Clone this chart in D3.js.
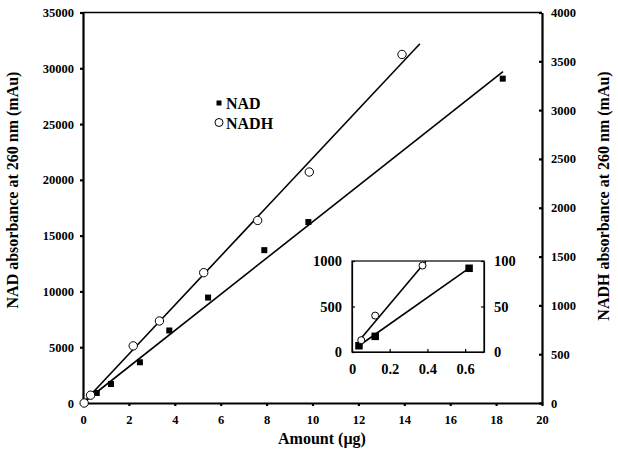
<!DOCTYPE html>
<html>
<head>
<meta charset="utf-8">
<script src="https://cdn.jsdelivr.net/npm/d3@7"></script>
<style>
  body { margin: 0; background: #fff; }
  text { font-family: "Liberation Serif", "Times New Roman", serif; font-weight: bold; }
</style>
</head>
<body>
<script>
// values

// main plot: amount (µg) vs absorbance
var nadAmount = [0.6, 1.22, 2.48, 3.76, 5.45, 7.9, 9.82, 18.29],
    nadAbs    = [900, 1700, 3650, 6500, 9450, 13700, 16220, 29070];   // left axis, mAu

var nadhAmount = [0.05, 0.33, 2.19, 3.33, 5.26, 7.61, 9.86, 13.9],
    nadhAbs    = [0, 80, 585, 840, 1335, 1870, 2366, 3570];            // right axis, mAu

// fitted lines: slope, intercept, x start, x end
var nadFit  = [1623, 0, 0, 18.3],
    nadhFit = [250.7, 0, 0, 14.68];

// inset: low amounts
var insetNadAmount  = [0.037, 0.123, 0.621],
    insetNadAbs     = [69, 172, 920],
    insetNadhAmount = [0.049, 0.123, 0.374],
    insetNadhAbs    = [13, 40, 95];

var insetNadFit  = [1460, 15, 0.035, 0.625],
    insetNadhFit = [247, 3, 0.033, 0.392];

// ticks
var xTicks = d3.range(0, 21, 2),
    yLeftTicks = d3.range(0, 35001, 5000),
    yRightTicks = d3.range(0, 4001, 500),
    insetXTicks = [0, 0.2, 0.4, 0.6],
    insetLeftTicks = [0, 500, 1000],
    insetRightTicks = [0, 50, 100];

var width = 618, height = 454;

var svg = d3.select('body').append('svg')
  .attr('width', width)
  .attr('height', height);

// main scales
var x = d3.scaleLinear().domain([0, 20]).range([83, 542]);
var yL = d3.scaleLinear().domain([0, 35000]).range([403, 12.5]);
var yR = d3.scaleLinear().domain([0, 4000]).range([403, 12.5]);

// top border
svg.append('line')
  .attr('x1', x(0)).attr('x2', x(20))
  .attr('y1', yL(35000)).attr('y2', yL(35000))
  .attr('stroke', '#000').attr('stroke-width', 1.3);

function styleAxis(g, fs, sw) {
  g.select('.domain').attr('stroke-width', sw);
  g.selectAll('.tick line').attr('stroke-width', sw);
  g.selectAll('text')
    .attr('font-family', '"Liberation Serif", serif')
    .attr('font-weight', 'bold')
    .attr('font-size', fs)
    .attr('fill', '#000');
}

svg.append('g')
  .attr('transform', 'translate(0,' + yL(0) + ')')
  .call(d3.axisBottom(x).tickValues(xTicks).tickSize(3).tickSizeOuter(0).tickPadding(9))
  .call(styleAxis, 12.5, 2.2);

svg.append('g')
  .attr('transform', 'translate(' + x(0) + ',0)')
  .call(d3.axisLeft(yL).tickValues(yLeftTicks).tickFormat(d3.format('d')).tickSize(3).tickSizeOuter(0).tickPadding(6))
  .call(styleAxis, 12.5, 2.2);

svg.append('g')
  .attr('transform', 'translate(' + x(20) + ',0)')
  .call(d3.axisRight(yR).tickValues(yRightTicks).tickFormat(d3.format('d')).tickSize(-3).tickSizeOuter(0).tickPadding(9))
  .call(styleAxis, 12.5, 2.2);

// axis titles
svg.append('text')
  .attr('transform', 'translate(18,190) rotate(-90)')
  .attr('text-anchor', 'middle')
  .attr('font-size', 16)
  .text('NAD absorbance at 260 nm (mAu)');

svg.append('text')
  .attr('transform', 'translate(609,196) rotate(-90)')
  .attr('text-anchor', 'middle')
  .attr('font-size', 16)
  .text('NADH absorbance at 260 nm (mAu)');

svg.append('text')
  .attr('x', 322).attr('y', 444)
  .attr('text-anchor', 'middle')
  .attr('font-size', 16)
  .text('Amount (\u00b5g)');

// fit lines
function fitLine(g, fit, sx, sy, sw) {
  g.append('line')
    .attr('x1', sx(fit[2])).attr('y1', sy(fit[0] * fit[2] + fit[1]))
    .attr('x2', sx(fit[3])).attr('y2', sy(fit[0] * fit[3] + fit[1]))
    .attr('stroke', '#000').attr('stroke-width', sw);
}

fitLine(svg, nadFit, x, yL, 1.6);
fitLine(svg, nadhFit, x, yR, 1.6);

// markers
function squares(g, xs, ys, sx, sy, s) {
  g.selectAll(null)
    .data(xs)
    .enter().append('rect')
    .attr('x', function(d) { return sx(d) - s / 2; })
    .attr('y', function(d, i) { return sy(ys[i]) - s / 2; })
    .attr('width', s).attr('height', s)
    .attr('fill', '#000');
}

function circles(g, xs, ys, sx, sy, r) {
  g.selectAll(null)
    .data(xs)
    .enter().append('circle')
    .attr('cx', function(d) { return sx(d); })
    .attr('cy', function(d, i) { return sy(ys[i]); })
    .attr('r', r)
    .attr('fill', '#fff')
    .attr('stroke', '#000').attr('stroke-width', 1);
}

var mainMarks = svg.append('g');
squares(mainMarks, nadAmount, nadAbs, x, yL, 6);
circles(mainMarks, nadhAmount, nadhAbs, x, yR, 4.2);

// legend
var legend = svg.append('g');
legend.append('rect').attr('x', 216.5).attr('y', 100.5).attr('width', 5).attr('height', 5).attr('fill', '#000');
legend.append('text').attr('x', 226).attr('y', 108.5).attr('font-size', 16).text('NAD');
legend.append('circle').attr('cx', 219).attr('cy', 122.5).attr('r', 4)
  .attr('fill', '#fff').attr('stroke', '#000');
legend.append('text').attr('x', 226).attr('y', 128.5).attr('font-size', 16).text('NADH');

// inset
var ix = d3.scaleLinear().domain([0, 0.7]).range([352, 484]);
var iyL = d3.scaleLinear().domain([0, 1000]).range([352, 261]);
var iyR = d3.scaleLinear().domain([0, 100]).range([352, 261]);

var inset = svg.append('g');

inset.append('rect')
  .attr('x', 352).attr('y', 261)
  .attr('width', 484 - 352).attr('height', 352 - 261)
  .attr('fill', '#fff').attr('stroke', '#000').attr('stroke-width', 1.2);

inset.append('g')
  .attr('transform', 'translate(0,' + iyL(0) + ')')
  .call(d3.axisBottom(ix).tickValues(insetXTicks).tickFormat(function(d) { return d === 0 ? '0' : d3.format('.1f')(d); })
    .tickSize(-3).tickSizeOuter(0).tickPadding(12))
  .call(styleAxis, 14.5, 1.2);

inset.append('g')
  .attr('transform', 'translate(352,0)')
  .call(d3.axisLeft(iyL).tickValues(insetLeftTicks).tickFormat(d3.format('d')).tickSize(-3).tickSizeOuter(0).tickPadding(10))
  .call(styleAxis, 14.5, 1.2);

inset.append('g')
  .attr('transform', 'translate(484,0)')
  .call(d3.axisRight(iyR).tickValues(insetRightTicks).tickFormat(d3.format('d')).tickSize(-3).tickSizeOuter(0).tickPadding(10))
  .call(styleAxis, 14.5, 1.2);

fitLine(inset, insetNadFit, ix, iyL, 1.6);
fitLine(inset, insetNadhFit, ix, iyR, 1.6);

squares(inset, insetNadAmount, insetNadAbs, ix, iyL, 7.5);
circles(inset, insetNadhAmount, insetNadhAbs, ix, iyR, 3.5);
</script>
</body>
</html>
